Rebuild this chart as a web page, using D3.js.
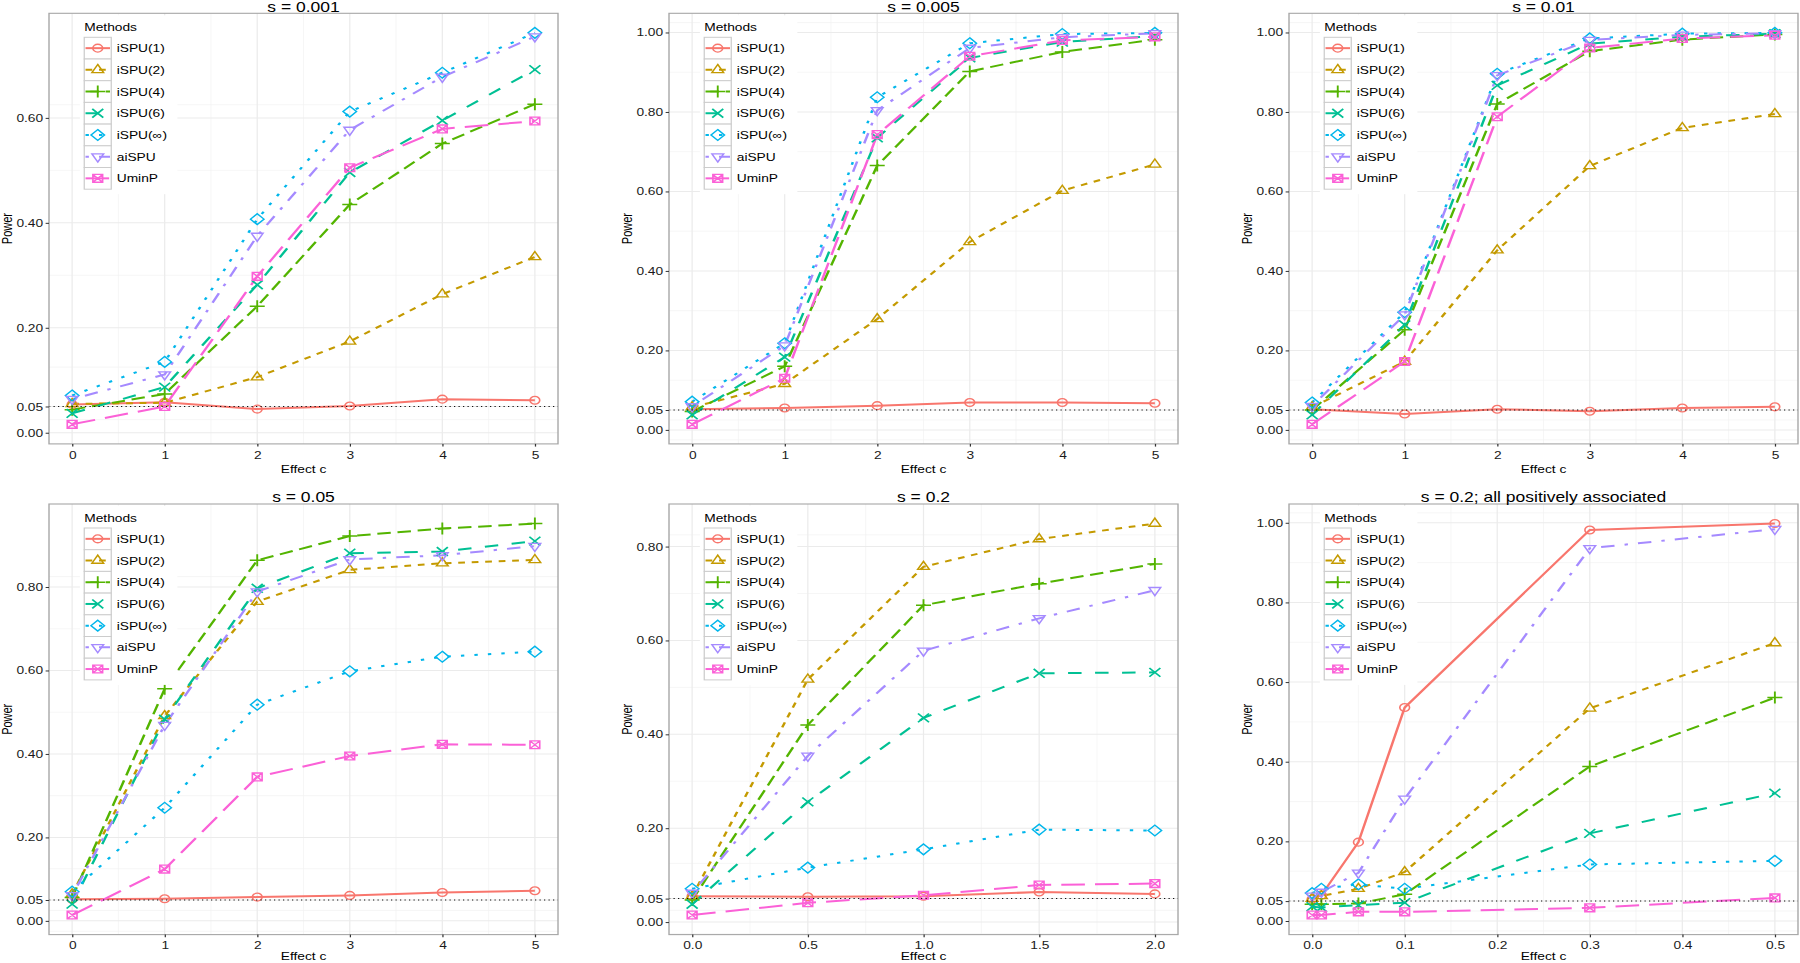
<!DOCTYPE html>
<html><head><meta charset="utf-8">
<script src="https://cdn.jsdelivr.net/npm/d3@7"></script>
<style>
body{margin:0;background:#fff;}
svg{display:block;}
text{font-family:"Liberation Sans",Arial,Helvetica,sans-serif;}
</style>
</head><body><svg id="chart"></svg>
<script>
// ---------------- data ----------------
const methods = ["iSPU(1)","iSPU(2)","iSPU(4)","iSPU(6)","iSPU(\u221E)","aiSPU","UminP"];
const colors  = ["#F8766D","#C49A00","#53B400","#00C094","#00B6EB","#A58AFF","#FB61D7"];
const titles  = ["s = 0.001","s = 0.005","s = 0.01","s = 0.05","s = 0.2","s = 0.2; all positively associated"];

const effectA = [0,1,2,3,4,5];
const effectB = [0,0.5,1,1.5,2];
const effectC = [0,0.01,0.05,0.1,0.3,0.5];

const xTicksA = [0,1,2,3,4,5];
const xTicksB = [0,0.5,1,1.5,2];
const xTicksC = [0,0.1,0.2,0.3,0.4,0.5];
const yBreaks = [0,0.05,0.2,0.4,0.6,0.8,1.0];
const alphaLevel = 0.05;

const power_s001 = [
  [0.054,0.058,0.045,0.051,0.064,0.062],
  [0.055,0.057,0.106,0.174,0.264,0.335],
  [0.044,0.074,0.241,0.435,0.551,0.626],
  [0.037,0.087,0.282,0.496,0.595,0.692],
  [0.071,0.135,0.407,0.612,0.686,0.762],
  [0.064,0.111,0.375,0.577,0.678,0.755],
  [0.016,0.050,0.298,0.505,0.579,0.594]
];
const power_s005 = [
  [0.052,0.055,0.061,0.069,0.069,0.067],
  [0.057,0.116,0.279,0.473,0.602,0.668],
  [0.046,0.160,0.665,0.902,0.951,0.982],
  [0.038,0.183,0.735,0.936,0.976,0.991],
  [0.071,0.218,0.837,0.973,0.996,0.999],
  [0.059,0.212,0.804,0.961,0.988,0.998],
  [0.014,0.130,0.743,0.940,0.980,0.989]
];
const power_s01 = [
  [0.052,0.040,0.052,0.047,0.055,0.058],
  [0.057,0.172,0.452,0.664,0.760,0.795],
  [0.050,0.252,0.820,0.953,0.982,0.995],
  [0.038,0.264,0.867,0.972,0.989,0.997],
  [0.069,0.296,0.896,0.985,0.997,0.999],
  [0.060,0.290,0.892,0.981,0.994,0.998],
  [0.014,0.172,0.788,0.961,0.985,0.993]
];
const power_s05 = [
  [0.052,0.053,0.057,0.061,0.068,0.072],
  [0.064,0.491,0.765,0.841,0.857,0.865],
  [0.056,0.556,0.864,0.922,0.940,0.952],
  [0.040,0.483,0.797,0.881,0.885,0.910],
  [0.070,0.271,0.518,0.598,0.633,0.645],
  [0.061,0.469,0.789,0.866,0.876,0.898],
  [0.014,0.124,0.345,0.395,0.423,0.422]
];
const power_s2 = [
  [0.055,0.054,0.055,0.064,0.060],
  [0.055,0.517,0.757,0.816,0.849],
  [0.047,0.420,0.675,0.721,0.763],
  [0.038,0.256,0.435,0.530,0.532],
  [0.071,0.116,0.155,0.197,0.195],
  [0.062,0.354,0.578,0.647,0.707],
  [0.015,0.041,0.057,0.079,0.082]
];
const power_s2pos = [
  [0.055,0.065,0.198,0.536,0.982,0.998],
  [0.056,0.063,0.081,0.123,0.534,0.698],
  [0.042,0.042,0.044,0.067,0.388,0.561],
  [0.036,0.034,0.040,0.046,0.220,0.321],
  [0.070,0.081,0.092,0.081,0.142,0.151],
  [0.063,0.073,0.121,0.307,0.936,0.984],
  [0.015,0.015,0.023,0.023,0.033,0.058]
];

// ---------------- layout ----------------
const W = 1800, H = 963, VW = 1440;           // content drawn stretched horizontally like the reference
const colX = [39.2, 535.2, 1031.2];
const rowY = [13.3, 504];
const PW = 407.2, PH = 430.6;

const U = 2.7; // dash unit
const dashes = ["none", [2,2], [4,2], [4,4], [1,3], [1,3,4,3], [7,3]]
  .map(d => d === "none" ? null : d.map(v => v*U).join(","));

const fmt2 = d3.format(".2f"), fmt1 = d3.format(".1f"), fmt0 = d3.format("d");

const panels = [
  {title:titles[0], xs:effectA, xt:xTicksA, xf:fmt0, data:power_s001},
  {title:titles[1], xs:effectA, xt:xTicksA, xf:fmt0, data:power_s005},
  {title:titles[2], xs:effectA, xt:xTicksA, xf:fmt0, data:power_s01},
  {title:titles[3], xs:effectA, xt:xTicksA, xf:fmt0, data:power_s05},
  {title:titles[4], xs:effectB, xt:xTicksB, xf:fmt1, data:power_s2},
  {title:titles[5], xs:effectC, xt:xTicksC, xf:fmt1, data:power_s2pos}
];

const svg = d3.select("#chart")
  .attr("width", W).attr("height", H)
  .attr("viewBox", `0 0 ${VW} ${H}`)
  .attr("preserveAspectRatio", "none");

svg.append("rect").attr("width", VW).attr("height", H).attr("fill", "#fff");

function minorBreaks(b, lim) {
  b = b.slice();
  const bd = b[1] - b[0];
  if (lim[0] < b[0]) b.unshift(b[0] - bd);
  if (lim[1] > b[b.length-1]) b.push(b[b.length-1] + bd);
  const m = [];
  for (let i = 0; i < b.length-1; i++) m.push((b[i]+b[i+1])/2);
  return m.filter(v => v >= lim[0] && v <= lim[1]);
}

function shape(g, k, col) {
  const sw = 1.3;
  if (k === 0) {
    g.append("circle").attr("r", 3.9).attr("fill","none").attr("stroke",col).attr("stroke-width",sw);
    return;
  }
  const paths = {
    1: "M0,-5.4L4.68,2.7L-4.68,2.7Z",
    2: "M-6,0H6M0,-6V6",
    3: "M-4.4,-4.4L4.4,4.4M-4.4,4.4L4.4,-4.4",
    4: "M0,-5.4L5.4,0L0,5.4L-5.4,0Z",
    5: "M0,5.4L4.68,-2.7L-4.68,-2.7Z",
    6: "M-3.9,-3.9H3.9V3.9H-3.9ZM-3.9,-3.9L3.9,3.9M-3.9,3.9L3.9,-3.9"
  };
  g.append("path").attr("d", paths[k]).attr("fill","none").attr("stroke",col)
   .attr("stroke-width", k===2||k===3 ? 1.5 : sw).attr("stroke-linejoin","miter");
}

panels.forEach((p, i) => {
  const x0 = colX[i % 3], y0 = rowY[Math.floor(i / 3)];
  const g = svg.append("g");

  const xe = d3.extent(p.xs), xs = xe[1]-xe[0];
  const xLim = [xe[0]-0.05*xs, xe[1]+0.05*xs];
  const allY = p.data.flat().concat([alphaLevel]);
  const ye = d3.extent(allY), ys = ye[1]-ye[0];
  const yLim = [ye[0]-0.05*ys, ye[1]+0.05*ys];

  const x = d3.scaleLinear().domain(xLim).range([x0, x0+PW]);
  const y = d3.scaleLinear().domain(yLim).range([y0+PH, y0]);

  const yb = yBreaks.filter(v => v >= yLim[0] && v <= yLim[1]);
  const xb = p.xt.filter(v => v >= xLim[0] - 1e-9 && v <= xLim[1] + 1e-9);

  // background
  g.append("rect").attr("x", x0).attr("y", y0).attr("width", PW).attr("height", PH).attr("fill", "#fff");

  // minor grid
  const grid = g.append("g");
  minorBreaks(yb, yLim).forEach(v => grid.append("line")
    .attr("x1", x0).attr("x2", x0+PW).attr("y1", y(v)).attr("y2", y(v))
    .attr("stroke", "#f2f2f2").attr("stroke-width", 0.6));
  minorBreaks(xb, xLim).forEach(v => grid.append("line")
    .attr("y1", y0).attr("y2", y0+PH).attr("x1", x(v)).attr("x2", x(v))
    .attr("stroke", "#f2f2f2").attr("stroke-width", 0.6));
  // major grid
  yb.forEach(v => grid.append("line")
    .attr("x1", x0).attr("x2", x0+PW).attr("y1", y(v)).attr("y2", y(v))
    .attr("stroke", "#ebebeb").attr("stroke-width", 1));
  xb.forEach(v => grid.append("line")
    .attr("y1", y0).attr("y2", y0+PH).attr("x1", x(v)).attr("x2", x(v))
    .attr("stroke", "#ebebeb").attr("stroke-width", 1));

  // lines
  const line = d3.line().x(d => x(d[0])).y(d => y(d[1]));
  p.data.forEach((vals, k) => {
    const pts = vals.map((v, j) => [p.xs[j], v]);
    g.append("path").attr("d", line(pts)).attr("fill", "none")
      .attr("stroke", colors[k]).attr("stroke-width", 2)
      .attr("stroke-dasharray", dashes[k]);
  });
  // points
  p.data.forEach((vals, k) => {
    vals.forEach((v, j) => {
      const pg = g.append("g").attr("transform", `translate(${x(p.xs[j])},${y(v)})`);
      shape(pg, k, colors[k]);
    });
  });
  // reference line at 0.05
  g.append("line").attr("x1", x0).attr("x2", x0+PW).attr("y1", y(alphaLevel)).attr("y2", y(alphaLevel))
    .attr("stroke", "#111").attr("stroke-width", 1).attr("stroke-dasharray", "1,2.6");

  // frame
  g.append("rect").attr("x", x0).attr("y", y0).attr("width", PW).attr("height", PH)
    .attr("fill", "none").attr("stroke", "#a6a6a6").attr("stroke-width", 1.1);

  // axes
  const ax = g.append("g").attr("transform", `translate(0,${y0+PH})`)
    .call(d3.axisBottom(x).tickValues(xb).tickFormat(p.xf).tickSizeOuter(0).tickSize(2.7).tickPadding(4.2));
  const ay = g.append("g").attr("transform", `translate(${x0},0)`)
    .call(d3.axisLeft(y).tickValues(yb).tickFormat(fmt2).tickSizeOuter(0).tickSize(2.7).tickPadding(2));
  [ax, ay].forEach(a => {
    a.select(".domain").remove();
    a.attr("font-size", null).attr("font-family", null);
    a.selectAll(".tick line").attr("stroke", "#333").attr("stroke-width", 1);
    a.selectAll(".tick text").attr("fill", "#1a1a1a").style("font-size", "11px");
  });

  // axis titles
  g.append("text").attr("x", x0+PW/2).attr("y", Math.min(y0+PH+29, H-3))
    .attr("text-anchor", "middle")
    .style("font-size", "11px").attr("fill", "#000").text("Effect c");
  g.append("text").attr("transform", `translate(${x0-29.6},${y0+PH/2}) rotate(-90)`)
    .attr("text-anchor", "middle").style("font-size", "11px").attr("fill", "#000").text("Power");

  // title
  g.append("text").attr("x", x0+PW/2).attr("y", y0-1.6).attr("text-anchor", "middle")
    .style("font-size", "14px").attr("fill", "#000").text(p.title);

  // legend
  const lg = g.append("g").attr("transform", `translate(${x0},${y0})`);
  const keyX = 28.2, keyY = 24, keyW = 21.6, keyH = 21.7;
  lg.append("rect").attr("x", 24.7).attr("y", 2).attr("width", 78).attr("height", keyY + 7*keyH + 5 - 2)
    .attr("fill", "#fff");
  lg.append("text").attr("x", keyX).attr("y", 17.6).style("font-size", "11px").attr("fill", "#000").text("Methods");
  methods.forEach((m, k) => {
    const ky = keyY + k*keyH;
    lg.append("rect").attr("x", keyX).attr("y", ky).attr("width", keyW).attr("height", keyH)
      .attr("fill", "#fff").attr("stroke", "#cccccc").attr("stroke-width", 1);
    lg.append("line").attr("x1", keyX+1).attr("x2", keyX+keyW-1).attr("y1", ky+keyH/2).attr("y2", ky+keyH/2)
      .attr("stroke", colors[k]).attr("stroke-width", 2).attr("stroke-dasharray", dashes[k]);
    const sg = lg.append("g").attr("transform", `translate(${keyX+keyW/2},${ky+keyH/2})`);
    shape(sg, k, colors[k]);
    lg.append("text").attr("x", keyX+keyW+4.4).attr("y", ky+keyH/2+4).style("font-size", "11px")
      .attr("fill", "#000").text(m);
  });
});
</script>
</body></html>
